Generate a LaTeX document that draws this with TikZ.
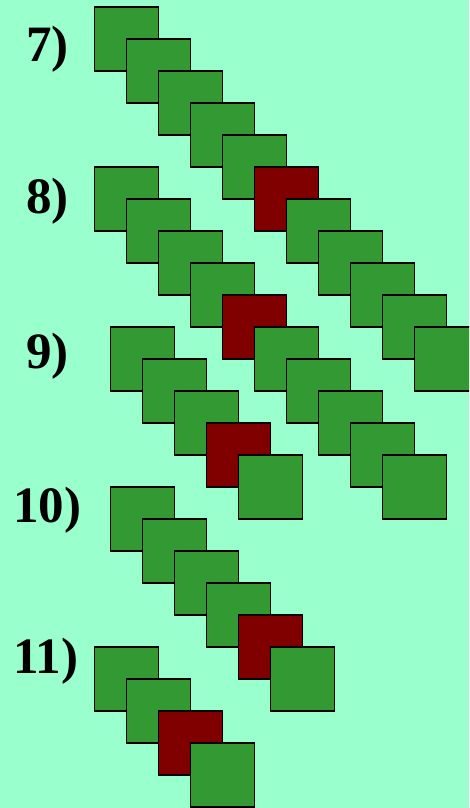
\documentclass[tikz,border=0pt]{standalone}
\usepackage{fontspec}
\usepackage{tikz}
\newfontfamily\lblfont{Liberation Serif}
\definecolor{bgmint}{RGB}{153,255,204}
\definecolor{sqgreen}{RGB}{51,153,51}
\definecolor{sqred}{RGB}{128,0,0}
\tikzset{
  sq/.style={rectangle, draw=black, line width=1.5pt, minimum size=64pt,
    inner sep=0pt, outer sep=0pt, anchor=north west},
  greensq/.style={sq, fill=sqgreen},
  redsq/.style={sq, fill=sqred},
  lbl/.style={font=\lblfont\bfseries\fontsize{51}{51}\selectfont,
    inner sep=0pt, anchor=base west}
}

\begin{document}
\begin{tikzpicture}[x=1pt, y=-1pt]
  % Background
  \fill[bgmint] (0,0) rectangle (469,808);
  \useasboundingbox (0,0) rectangle (469,808);
  \clip (0,0) rectangle (469,808);

  % Row labels
  \node[lbl] (l7) at (26,62) {7)};
  \node[lbl] (l8) at (26,213) {8)};
  \node[lbl] (l9) at (26,368) {9)};
  \node[lbl] (l10) at (13,522) {10)};
  \node[lbl] (l11) at (13,673) {11)};

  % Row 7
  \foreach \i in {1,...,11} {
    \ifnum\i=6 \def\sqsty{redsq}\else\def\sqsty{greensq}\fi
    \node[\sqsty] (r7-\i) at ({94.5+32*(\i-1)},{7+32*(\i-1)}) {};
  }
  % Row 8
  \foreach \i in {1,...,10} {
    \ifnum\i=5 \def\sqsty{redsq}\else\def\sqsty{greensq}\fi
    \node[\sqsty] (r8-\i) at ({94.5+32*(\i-1)},{167+32*(\i-1)}) {};
  }
  % Row 9
  \foreach \i in {1,...,5} {
    \ifnum\i=4 \def\sqsty{redsq}\else\def\sqsty{greensq}\fi
    \node[\sqsty] (r9-\i) at ({110.5+32*(\i-1)},{327+32*(\i-1)}) {};
  }
  % Row 10
  \foreach \i in {1,...,6} {
    \ifnum\i=5 \def\sqsty{redsq}\else\def\sqsty{greensq}\fi
    \node[\sqsty] (r10-\i) at ({110.5+32*(\i-1)},{487+32*(\i-1)}) {};
  }
  % Row 11
  \foreach \i in {1,...,4} {
    \ifnum\i=3 \def\sqsty{redsq}\else\def\sqsty{greensq}\fi
    \node[\sqsty] (r11-\i) at ({94.5+32*(\i-1)},{647+32*(\i-1)}) {};
  }
\end{tikzpicture}
\end{document}
